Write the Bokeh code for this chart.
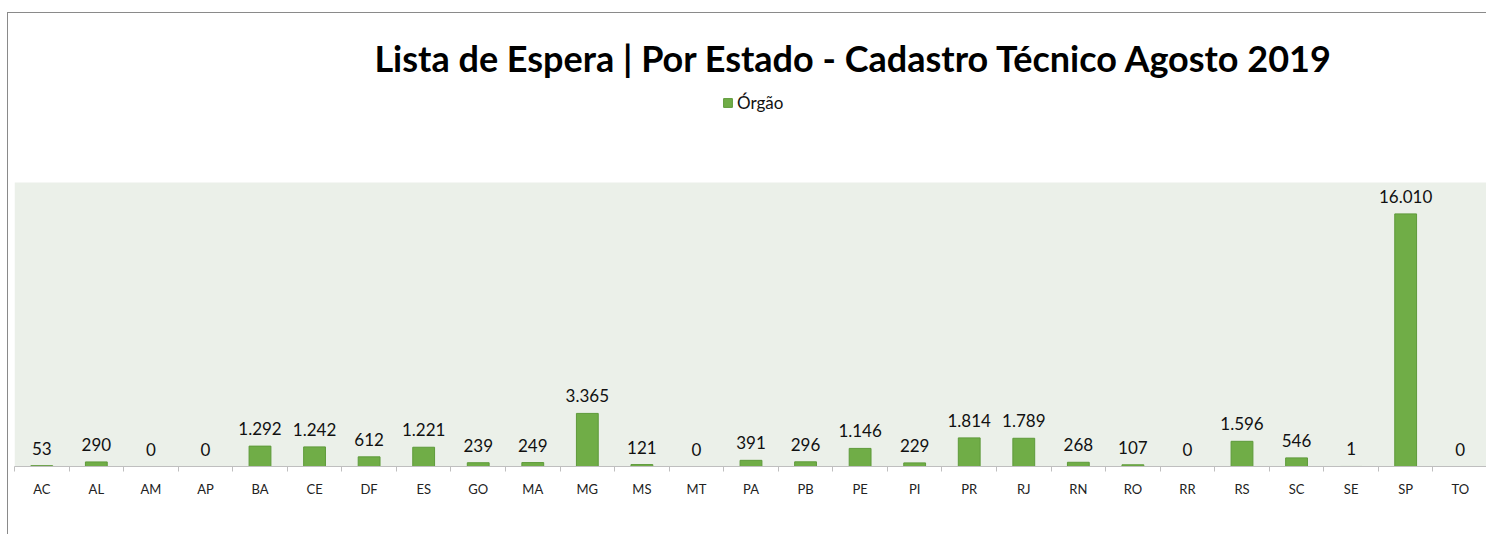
from bokeh.plotting import figure
from bokeh.models import (ColumnDataSource, Range1d, FixedTicker, LabelSet, Label,
                          Legend, LegendItem, BoxAnnotation)
from bokeh.core.properties import value
from bokeh.embed import file_html
from bokeh.resources import INLINE

estados = ["AC", "AL", "AM", "AP", "BA", "CE", "DF", "ES", "GO", "MA", "MG", "MS", "MT", "PA",
           "PB", "PE", "PI", "PR", "RJ", "RN", "RO", "RR", "RS", "SC", "SE", "SP", "TO"]
orgao = [53, 290, 0, 0, 1292, 1242, 612, 1221, 239, 249, 3365, 121, 0, 391,
         296, 1146, 229, 1814, 1789, 268, 107, 0, 1596, 546, 1, 16010, 0]
titulo = "Lista de Espera | Por Estado -  Cadastro Técnico Agosto 2019"
serie = "Órgão"
y_max = 18000

xs = list(range(len(estados)))
labels = [f"{v:,}".replace(",", ".") for v in orgao]
src = ColumnDataSource(dict(x=xs, y=orgao, lab=labels))

# layout (pixels)
W, H = 1479, 522
top_border = 0
bottom_border = 69
frame_h = H - top_border - bottom_border
plot_area_h = 284  # height of the shaded plot area
y_top = y_max * frame_h / plot_area_h

p = figure(width=W, height=H, output_backend="svg", toolbar_location=None,
           x_range=Range1d(-0.5, len(estados) - 0.5), y_range=Range1d(0, y_top),
           min_border_left=6, min_border_right=0, min_border_top=top_border,
           min_border_bottom=bottom_border,
           background_fill_color="white", border_fill_color="white",
           outline_line_color=None,
           styles={"border-left": "1px solid #8a8a8a", "border-top": "1px solid #8a8a8a",
                   "margin-top": "12px", "margin-left": "7px"})

p.add_layout(BoxAnnotation(bottom=0, top=y_max, fill_color="#EBF0E9", fill_alpha=1,
                           line_color=None, level="underlay"))

r = p.vbar(x="x", top="y", width=0.4, source=src, fill_color="#70AD47",
           line_color="#5E9A3A", line_width=1)

p.add_layout(LabelSet(x="x", y="y", text="lab", source=src, text_align="center",
                      text_baseline="alphabetic", y_offset=11, text_font=value("Lato"),
                      text_font_size="17px", text_color="#111111"))

p.yaxis.visible = False
p.grid.visible = False
ax = p.xaxis[0]
ax.ticker = FixedTicker(ticks=xs, minor_ticks=[i - 0.5 for i in range(len(estados) + 1)])
ax.major_label_overrides = {i: c for i, c in enumerate(estados)}
ax.major_tick_out = 0
ax.major_tick_in = 0
ax.minor_tick_out = 5
ax.minor_tick_in = 0
ax.minor_tick_line_color = "#BFBFBF"
ax.axis_line_color = "#BFBFBF"
ax.major_label_text_font = "Lato"
ax.major_label_text_font_size = "13px"
ax.major_label_text_color = "#222222"
ax.major_label_standoff = 9

p.add_layout(Label(x=844, y=409, x_units="screen", y_units="screen", text=titulo,
                   text_align="center", text_baseline="middle", text_font="Lato",
                   text_font_style="bold", text_font_size="36px", text_color="black"))

leg = Legend(items=[LegendItem(label=serie, renderers=[r])], location=(708, 353),
             padding=0, margin=0, border_line_color=None, background_fill_alpha=0,
             glyph_width=11, glyph_height=11, label_standoff=4,
             label_text_font="Lato", label_text_font_size="17px", label_text_color="#111111")
p.add_layout(leg, "center")

open("out.html", "w").write(file_html(p, INLINE))
